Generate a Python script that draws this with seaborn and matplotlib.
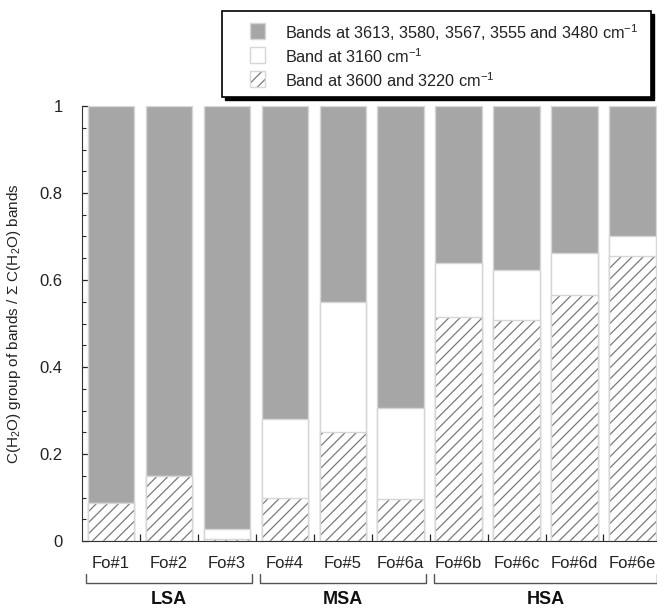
import numpy as np
import pandas as pd
import seaborn as sns
import matplotlib
matplotlib.use("Agg")
import matplotlib.pyplot as plt
from matplotlib.patches import Rectangle
import matplotlib.transforms as mtransforms

# ---- data ----
samples = ["Fo#1", "Fo#2", "Fo#3", "Fo#4", "Fo#5", "Fo#6a",
           "Fo#6b", "Fo#6c", "Fo#6d", "Fo#6e"]
band_3600_3220 = [0.088, 0.150, 0.005, 0.100, 0.250, 0.097, 0.515, 0.507, 0.565, 0.655]
band_3160 = [0.000, 0.000, 0.022, 0.180, 0.300, 0.208, 0.125, 0.116, 0.097, 0.045]
bands_other = [1 - a - b for a, b in zip(band_3600_3220, band_3160)]
groups = ["LSA", "MSA", "HSA"]
group_members = [(0, 2), (3, 5), (6, 9)]
legend_labels = ["Bands at 3613, 3580, 3567, 3555 and 3480 cm$^{-1}$",
                 "Band at 3160 cm$^{-1}$",
                 "Band at 3600 and 3220 cm$^{-1}$"]

df = pd.DataFrame({"sample": samples,
                   "hatch": band_3600_3220,
                   "white": band_3160,
                   "gray": bands_other})
df["cum_white"] = df["hatch"] + df["white"]
df["cum_gray"] = df["cum_white"] + df["gray"]

sns.set_style("ticks")
plt.rcParams["font.family"] = ["Liberation Sans", "DejaVu Sans"]
plt.rcParams["hatch.linewidth"] = 0.9
plt.rcParams["mathtext.fontset"] = "custom"
plt.rcParams["mathtext.rm"] = "Liberation Sans"
plt.rcParams["mathtext.it"] = "Liberation Sans"
plt.rcParams["mathtext.sf"] = "Liberation Sans"

W, H = 657, 608
fig = plt.figure(figsize=(W / 100, H / 100), dpi=100)
ax_left, ax_bottom = 82 / W, 1 - 541 / H
ax_w, ax_h = 579.4 / W, (541 - 106) / H
ax = fig.add_axes([ax_left, ax_bottom, ax_w, ax_h])

GRAY = "#a6a6a6"
EDGE = "#d6d6d6"
HATCHC = "#7a7a7a"
TXT = "#222222"
FS = 12
BW = 0.8
sns.barplot(data=df, x="sample", y="cum_gray", color=GRAY, edgecolor=EDGE,
            linewidth=1.0, width=BW, saturation=1, ax=ax)
sns.barplot(data=df, x="sample", y="cum_white", color="white", edgecolor=EDGE,
            linewidth=1.0, width=BW, saturation=1, ax=ax)
sns.barplot(data=df, x="sample", y="hatch", color="white", edgecolor=HATCHC,
            linewidth=0, width=BW, saturation=1, hatch="///", ax=ax)
sns.barplot(data=df, x="sample", y="hatch", fill=False, edgecolor=EDGE,
            linewidth=1.0, width=BW, ax=ax)

ax.set_xlim(-0.5, 9.5)
ax.set_ylim(0, 1)
sns.despine(ax=ax, top=True, right=True)
ax.spines["left"].set_color("#333333")
ax.spines["bottom"].set_color("#333333")

ax.set_yticks([0, 0.2, 0.4, 0.6, 0.8, 1.0])
ax.set_yticklabels(["0", "0.2", "0.4", "0.6", "0.8", "1"], fontsize=FS, color=TXT)
ax.set_yticks(np.arange(0, 1.0001, 0.05), minor=True)
ax.tick_params(axis="y", which="major", direction="in", length=5, width=0.9, pad=14)
ax.tick_params(axis="y", which="minor", direction="in", length=3, width=0.8)

ax.set_xticks(range(len(samples)))
ax.set_xticklabels(samples, fontsize=FS, color=TXT)
ax.tick_params(axis="x", which="major", length=0, pad=11)
ax.set_xticks(np.arange(0.5, len(samples) - 0.5, 1.0), minor=True)
ax.tick_params(axis="x", which="minor", direction="in", length=5, width=0.9)
ax.set_xlabel("")
ax.set_ylabel("C(H$_2$O) group of bands / $\\Sigma$ C(H$_2$O) bands",
              fontsize=11, color=TXT, labelpad=12)

# group brackets
trans = mtransforms.blended_transform_factory(ax.transData, ax.transAxes)
yb, yt, ylab = -0.097, -0.076, -0.135
for g, (i0, i1) in zip(groups, group_members):
    x0, x1 = i0 - 0.43, i1 + 0.43
    ax.plot([x0, x0, x1, x1], [yt, yb, yb, yt], color="#555555", lw=1.0,
            transform=trans, clip_on=False)
    ax.text((i0 + i1) / 2, ylab, g, transform=trans, ha="center", va="center",
            fontsize=13, fontweight="bold", color="#111111")

# legend (frame with shadow, entries)
fx = lambda px: px / W
fy = lambda py: 1 - py / H
shadow = Rectangle((fx(225), fy(100)), fx(651) - fx(222), fy(11) - fy(97),
                   transform=fig.transFigure, facecolor="black", edgecolor="black",
                   lw=1, zorder=5)
frame = Rectangle((fx(222), fy(97)), fx(651) - fx(222), fy(11) - fy(97),
                  transform=fig.transFigure, facecolor="white", edgecolor="black",
                  lw=1.2, zorder=6)
fig.patches.extend([shadow, frame])

handle_styles = [dict(facecolor=GRAY, edgecolor=EDGE, lw=1.0),
                 dict(facecolor="white", edgecolor=EDGE, lw=1.0),
                 dict(facecolor="white", edgecolor=HATCHC, hatch="///", lw=0.0)]
centers = [31, 55, 79]
for lab, st, cy in zip(legend_labels, handle_styles, centers):
    p = Rectangle((fx(250), fy(cy + 7.5)), fx(265) - fx(250), fy(cy - 7.5) - fy(cy + 7.5),
                  transform=fig.transFigure, zorder=7, **st)
    fig.patches.append(p)
    if st.get("hatch"):
        fig.patches.append(Rectangle((fx(250), fy(cy + 7.5)), fx(265) - fx(250),
                                     fy(cy - 7.5) - fy(cy + 7.5), transform=fig.transFigure,
                                     fill=False, edgecolor=EDGE, lw=1.0, zorder=8))
    fig.text(fx(285), fy(cy), lab, fontsize=11.7, color=TXT, va="center_baseline",
             ha="left", zorder=9)

fig.savefig("out.png", dpi=100)
